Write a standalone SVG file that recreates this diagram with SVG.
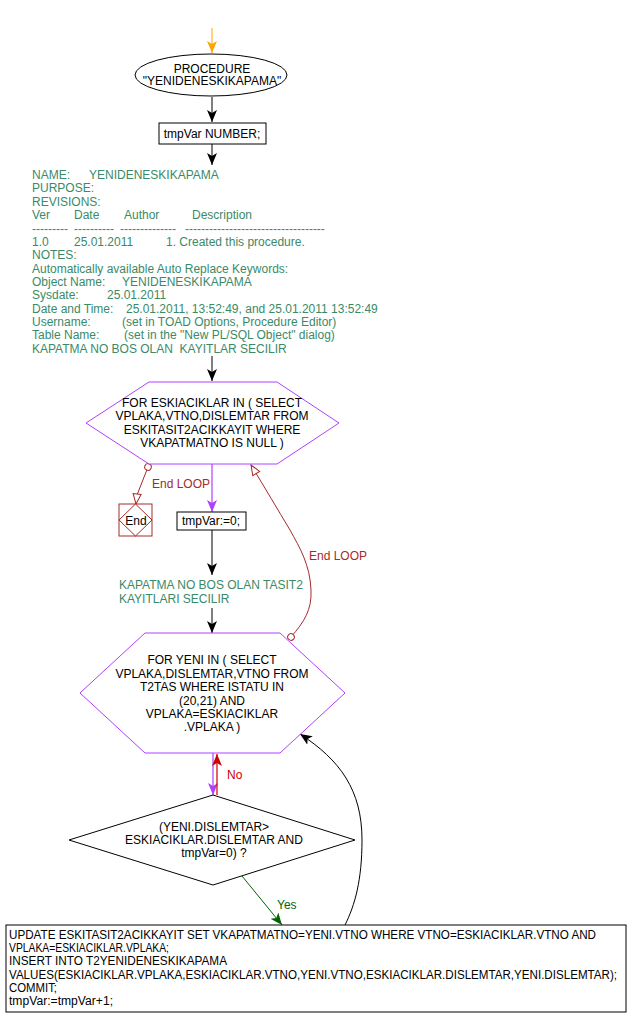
<svg xmlns="http://www.w3.org/2000/svg" width="630" height="1025" viewBox="0 0 630 1025">
<style>
text{font-family:"Liberation Sans",Arial,sans-serif;font-size:12px}
.b{fill:#000}
.c{text-anchor:middle}
.g{fill:#3a8a68}
.dr{fill:#a52a2a}
.node{fill:#fff;stroke:#000;stroke-width:1}
.hex{fill:#fff;stroke:#b040ff;stroke-width:1}
.ln{fill:none;stroke:#000;stroke-width:1}
</style>
<defs>
<marker id="ab" markerWidth="12" markerHeight="14" refX="12" refY="5" orient="auto" markerUnits="userSpaceOnUse"><path d="M0,0 L12,5 L0,10 L3,5 Z" fill="#000"/></marker>
<marker id="ao" markerWidth="12" markerHeight="14" refX="12" refY="5" orient="auto" markerUnits="userSpaceOnUse"><path d="M0,0 L12,5 L0,10 L3,5 Z" fill="#ffa500"/></marker>
<marker id="ap" markerWidth="12" markerHeight="14" refX="12" refY="5" orient="auto" markerUnits="userSpaceOnUse"><path d="M0,0 L12,5 L0,10 L3,5 Z" fill="#b040ff"/></marker>
<marker id="ar" markerWidth="12" markerHeight="14" refX="12" refY="5" orient="auto" markerUnits="userSpaceOnUse"><path d="M0,0 L12,5 L0,10 L3,5 Z" fill="#cc0000"/></marker>
<marker id="ag" markerWidth="12" markerHeight="14" refX="12" refY="5" orient="auto" markerUnits="userSpaceOnUse"><path d="M0,0 L12,5 L0,10 L3,5 Z" fill="#006400"/></marker>
<marker id="ah" markerWidth="12" markerHeight="12" refX="11" refY="5" orient="auto" markerUnits="userSpaceOnUse"><path d="M1,1 L11,5 L1,9 Z" fill="#fff" stroke="#a52a2a"/></marker>
<marker id="cs" markerWidth="10" markerHeight="10" refX="4" refY="4" orient="auto" markerUnits="userSpaceOnUse"><circle cx="4" cy="4" r="3.3" fill="#fff" stroke="#a52a2a"/></marker>
</defs>

<g id="connectors">
<line x1="212" y1="28" x2="212" y2="53" stroke="#ffa500" marker-end="url(#ao)"/>
<line class="ln" x1="212" y1="97" x2="212" y2="122" marker-end="url(#ab)"/>
<line class="ln" x1="212" y1="144" x2="212" y2="165" marker-end="url(#ab)"/>
<line class="ln" x1="212" y1="356" x2="212" y2="381" marker-end="url(#ab)"/>
<path d="M148,467 L137,495 L136,504" fill="none" stroke="#a52a2a" marker-start="url(#cs)" marker-end="url(#ah)"/>
<text class="dr" x="152" y="488">End LOOP</text>
<line x1="212" y1="464" x2="212" y2="512" stroke="#b040ff" stroke-width="1.2" marker-end="url(#ap)"/>
<line class="ln" x1="212" y1="530" x2="212" y2="575" marker-end="url(#ab)"/>
<line class="ln" x1="212" y1="608" x2="212" y2="633" marker-end="url(#ab)"/>
<path d="M291,637 C304,622 312,610 311,590 C310,565 300,548 290,530 C278,510 265,488 251,465" fill="none" stroke="#a52a2a" marker-start="url(#cs)" marker-end="url(#ah)"/>
<text class="dr" x="309" y="560">End LOOP</text>
<line x1="213" y1="753" x2="213" y2="795" stroke="#b040ff" stroke-width="1.2" marker-end="url(#ap)"/>
<line x1="217" y1="795" x2="217" y2="754" stroke="#cc0000" stroke-width="1.2" marker-end="url(#ar)"/>
<text x="227" y="779" fill="#cc0000">No</text>
<line x1="242" y1="876" x2="282" y2="925" stroke="#006400" marker-end="url(#ag)"/>
<text x="277" y="909" fill="#006400">Yes</text>
<path d="M345,925 C355,905 362,880 362,840 C362,790 340,760 300,734" class="ln" marker-end="url(#ab)"/>
</g>

<g id="start">
<ellipse cx="211" cy="75" rx="76" ry="21" class="node"/>
<text class="c" x="212" y="73">PROCEDURE</text>
<text class="c" x="212" y="85">"YENIDENESKIKAPAMA"</text>
</g>

<g id="decl">
<rect x="159" y="123" width="107" height="21" class="node"/>
<text class="c" x="212" y="138">tmpVar NUMBER;</text>
</g>

<g id="comment1" class="g">
<text x="32" y="179">NAME:</text><text x="89" y="179">YENIDENESKIKAPAMA</text>
<text x="32" y="192">PURPOSE:</text>
<text x="32" y="206">REVISIONS:</text>
<text x="32" y="219">Ver</text><text x="74" y="219">Date</text><text x="124" y="219">Author</text><text x="192" y="219">Description</text>
<text x="32" y="233">---------</text><text x="74" y="233">----------</text><text x="120" y="233">--------------</text><text x="185" y="233">-----------------------------------</text>
<text x="32" y="246">1.0</text><text x="74" y="246">25.01.2011</text><text x="166" y="246">1. Created this procedure.</text>
<text x="32" y="259">NOTES:</text>
<text x="32" y="273">Automatically available Auto Replace Keywords:</text>
<text x="32" y="286">Object Name:</text><text x="122" y="286">YENIDENESKIKAPAMA</text>
<text x="32" y="299">Sysdate:</text><text x="107" y="299">25.01.2011</text>
<text x="32" y="313">Date and Time:</text><text x="126" y="313">25.01.2011, 13:52:49, and 25.01.2011 13:52:49</text>
<text x="32" y="326">Username:</text><text x="122" y="326">(set in TOAD Options, Procedure Editor)</text>
<text x="32" y="339">Table Name:</text><text x="124" y="339">(set in the "New PL/SQL Object" dialog)</text>
<text x="32" y="353" xml:space="preserve">KAPATMA NO BOS OLAN  KAYITLAR SECILIR</text>
</g>

<g id="loop1">
<polygon points="149,382 277,382 339,423 277,464 149,464 86,423" class="hex"/>
<text class="c" x="212" y="407">FOR ESKIACIKLAR IN ( SELECT</text>
<text class="c" x="212" y="420">VPLAKA,VTNO,DISLEMTAR FROM</text>
<text class="c" x="212" y="434">ESKITASIT2ACIKKAYIT WHERE</text>
<text class="c" x="212" y="447">VKAPATMATNO IS NULL )</text>
</g>

<g id="end">
<rect x="119" y="504" width="33" height="32" fill="#fff" stroke="#a52a2a"/>
<polygon points="135.5,504 152,520 135.5,536 119,520" fill="none" stroke="#a52a2a"/>
<text class="c" x="136" y="525" fill="#000">End</text>
</g>

<g id="init">
<rect x="177" y="512" width="69" height="18" class="node"/>
<text class="c" x="211" y="525">tmpVar:=0;</text>
</g>

<g id="comment2" class="g">
<text x="119" y="589">KAPATMA NO BOS OLAN TASIT2</text>
<text x="119" y="603">KAYITLARI SECILIR</text>
</g>

<g id="loop2">
<polygon points="145,633 280,633 345,693 280,753 145,753 80,693" class="hex"/>
<text class="c" x="212" y="664">FOR YENI IN ( SELECT</text>
<text class="c" x="212" y="678">VPLAKA,DISLEMTAR,VTNO FROM</text>
<text class="c" x="212" y="691">T2TAS WHERE ISTATU IN</text>
<text class="c" x="212" y="705">(20,21) AND</text>
<text class="c" x="212" y="718">VPLAKA=ESKIACIKLAR</text>
<text class="c" x="212" y="731">.VPLAKA )</text>
</g>

<g id="cond">
<polygon points="213,795 355,840 213,885 69,840" class="node"/>
<text class="c" x="214" y="831">(YENI.DISLEMTAR&gt;</text>
<text class="c" x="214" y="844">ESKIACIKLAR.DISLEMTAR AND</text>
<text class="c" x="214" y="857">tmpVar=0) ?</text>
</g>

<g id="update">
<rect x="6" y="925" width="620" height="87" class="node"/>
<text x="9" y="939" textLength="587" lengthAdjust="spacingAndGlyphs">UPDATE ESKITASIT2ACIKKAYIT SET VKAPATMATNO=YENI.VTNO WHERE VTNO=ESKIACIKLAR.VTNO AND</text>
<text x="9" y="952" textLength="160" lengthAdjust="spacingAndGlyphs">VPLAKA=ESKIACIKLAR.VPLAKA;</text>
<text x="9" y="965" textLength="218" lengthAdjust="spacingAndGlyphs">INSERT INTO T2YENIDENESKIKAPAMA</text>
<text x="9" y="979" textLength="608" lengthAdjust="spacingAndGlyphs">VALUES(ESKIACIKLAR.VPLAKA,ESKIACIKLAR.VTNO,YENI.VTNO,ESKIACIKLAR.DISLEMTAR,YENI.DISLEMTAR);</text>
<text x="9" y="992" textLength="48" lengthAdjust="spacingAndGlyphs">COMMIT;</text>
<text x="9" y="1005" textLength="104" lengthAdjust="spacingAndGlyphs">tmpVar:=tmpVar+1;</text>
</g>
</svg>
